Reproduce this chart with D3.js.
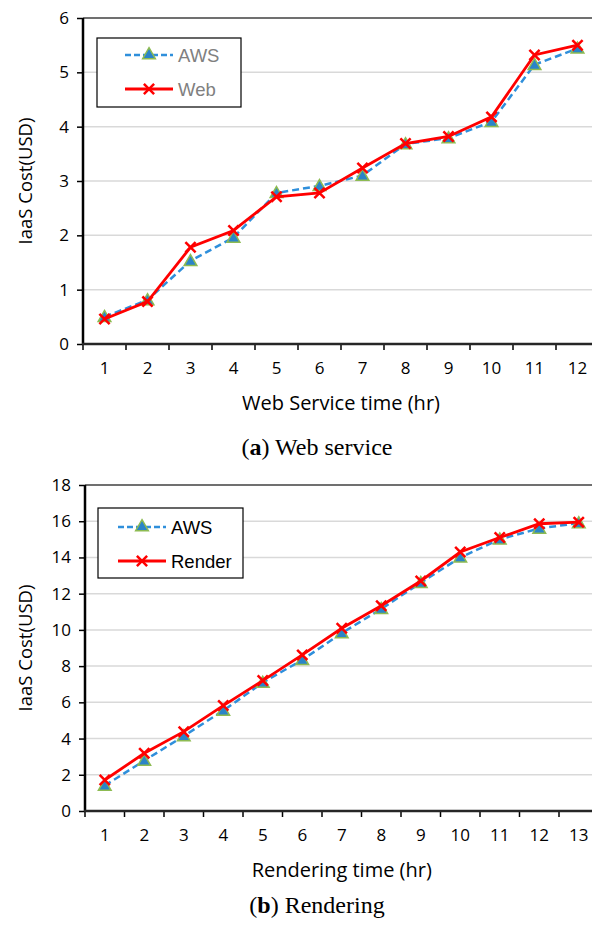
<!DOCTYPE html>
<html>
<head>
<meta charset="utf-8">
<script src="https://cdn.jsdelivr.net/npm/d3@7"></script>
<style>
  html, body { margin: 0; padding: 0; background: #fff; }
  svg { display: block; }
</style>
</head>
<body>
<svg id="chart" width="592" height="928"></svg>
<script>
// Panel (a): web service cost
const webHours = [1, 2, 3, 4, 5, 6, 7, 8, 9, 10, 11, 12];
const webAws = [0.50, 0.81, 1.53, 1.96, 2.78, 2.91, 3.10, 3.68, 3.79, 4.09, 5.14, 5.44];
const webOwn = [0.46, 0.78, 1.78, 2.09, 2.71, 2.78, 3.24, 3.69, 3.82, 4.18, 5.32, 5.50];
const webTicks = [0, 1, 2, 3, 4, 5, 6];

// Panel (b): rendering cost
const renderHours = [1, 2, 3, 4, 5, 6, 7, 8, 9, 10, 11, 12, 13];
const renderAws = [1.40, 2.78, 4.14, 5.54, 7.09, 8.34, 9.82, 11.16, 12.60, 14.00, 15.00, 15.60, 15.90];
const renderOwn = [1.71, 3.19, 4.38, 5.82, 7.20, 8.62, 10.09, 11.33, 12.70, 14.30, 15.10, 15.86, 15.95];
const renderTicks = [0, 2, 4, 6, 8, 10, 12, 14, 16, 18];

const svg = d3.select("#chart");

const tickFont = "'Open Sans', 'Noto Sans', sans-serif";
const legendFont = "'Liberation Sans', Arial, sans-serif";
const captionFont = "'Liberation Serif', 'DejaVu Serif', serif";

const AWS_LINE = "#2f8fdb";
const AWS_FILL = "#2b84c8";
const AWS_EDGE = "#8dbb52";
const OWN_LINE = "#ff0000";

function panel(cfg) {
  const { left, right, top, bottom, cats, aws, own, yMax, yTicks, xTitle, xTitleY,
          ownName, legendBox, legendTextColor, captionLabel, captionRest, captionY } = cfg;

  const g = svg.append("g");

  const x = d3.scaleBand().domain(cats).range([left, right]).paddingInner(0).paddingOuter(0);
  const y = d3.scaleLinear().domain([0, yMax]).range([bottom, top]);

  // horizontal gridlines
  g.append("g").selectAll("line")
    .data(yTicks.filter(t => t > 0 && t < yMax))
    .join("line")
    .attr("x1", left).attr("x2", right)
    .attr("y1", d => y(d)).attr("y2", d => y(d))
    .attr("stroke", "#d9d9d9").attr("stroke-width", 1.5);

  // top border
  g.append("line")
    .attr("x1", left).attr("x2", right)
    .attr("y1", top).attr("y2", top)
    .attr("stroke", "#404040").attr("stroke-width", 1.5);

  // y axis
  const yAxis = d3.axisLeft(y).tickValues(yTicks).tickSize(6).tickPadding(8).tickFormat(d3.format("d"));
  const ya = g.append("g").attr("transform", `translate(${left},0)`).call(yAxis);
  ya.select(".domain").remove();
  ya.selectAll(".tick line").attr("stroke", "#000").attr("stroke-width", 1.5);
  ya.selectAll(".tick text").attr("font-family", tickFont).attr("font-size", 17).attr("fill", "#000");
  g.append("line")
    .attr("x1", left).attr("x2", left).attr("y1", top).attr("y2", bottom + 1)
    .attr("stroke", "#000").attr("stroke-width", 2.5);

  // x axis: ticks on the category boundaries, labels at band centres
  const xa = g.append("g").attr("transform", `translate(0,${bottom})`);
  const bounds = cats.map(c => x(c)).concat([x(cats[cats.length - 1]) + x.bandwidth()]);
  xa.selectAll("line.tk").data(bounds).join("line").attr("class", "tk")
    .attr("x1", d => d).attr("x2", d => d).attr("y1", 0).attr("y2", 6)
    .attr("stroke", "#000").attr("stroke-width", 1.5);
  xa.selectAll("text").data(cats).join("text")
    .attr("x", d => x(d) + x.bandwidth() / 2).attr("y", 30)
    .attr("text-anchor", "middle")
    .attr("font-family", tickFont).attr("font-size", 17).attr("fill", "#000")
    .text(d => d);
  g.append("line")
    .attr("x1", left - 1).attr("x2", right).attr("y1", bottom).attr("y2", bottom)
    .attr("stroke", "#262626").attr("stroke-width", 2.5);

  // axis titles
  g.append("text")
    .attr("transform", `translate(24,${(top + bottom) / 2}) rotate(-90)`)
    .attr("text-anchor", "middle").attr("dominant-baseline", "central")
    .attr("font-family", tickFont).attr("font-size", 18.5).attr("fill", "#000")
    .text("IaaS Cost(USD)");
  g.append("text")
    .attr("x", (left + right) / 2).attr("y", xTitleY)
    .attr("text-anchor", "middle")
    .attr("font-family", tickFont).attr("font-size", 20).attr("fill", "#000")
    .text(xTitle);

  const cx = c => x(c) + x.bandwidth() / 2;

  // series lines
  const line = d3.line().x(d => cx(d.c)).y(d => y(d.v));
  const awsPts = cats.map((c, i) => ({ c, v: aws[i] }));
  const ownPts = cats.map((c, i) => ({ c, v: own[i] }));

  g.append("path").datum(awsPts).attr("d", line)
    .attr("fill", "none").attr("stroke", AWS_LINE).attr("stroke-width", 2.5)
    .attr("stroke-dasharray", "7,4");

  const tri = d3.symbol().type(d3.symbolTriangle).size(70);
  g.append("g").selectAll("path").data(awsPts).join("path")
    .attr("d", tri)
    .attr("transform", d => `translate(${cx(d.c)},${y(d.v) + 1})`)
    .attr("fill", AWS_FILL).attr("stroke", AWS_EDGE).attr("stroke-width", 1.5);

  g.append("path").datum(ownPts).attr("d", line)
    .attr("fill", "none").attr("stroke", OWN_LINE).attr("stroke-width", 2.8);

  const cross = d3.symbol().type(d3.symbolX).size(70);
  g.append("g").selectAll("path").data(ownPts).join("path")
    .attr("d", cross)
    .attr("transform", d => `translate(${cx(d.c)},${y(d.v)})`)
    .attr("fill", "none").attr("stroke", OWN_LINE).attr("stroke-width", 2.5);

  // legend
  const lg = g.append("g");
  lg.append("rect")
    .attr("x", legendBox.x).attr("y", legendBox.y)
    .attr("width", legendBox.w).attr("height", legendBox.h)
    .attr("fill", "#fff").attr("stroke", "#000").attr("stroke-width", 1.2);
  const rows = [
    { name: "AWS", kind: "aws", yy: legendBox.row1 },
    { name: ownName, kind: "own", yy: legendBox.row2 }
  ];
  rows.forEach(r => {
    const x0 = legendBox.lx0, x1 = legendBox.lx1, xm = (x0 + x1) / 2;
    if (r.kind === "aws") {
      lg.append("line").attr("x1", x0).attr("x2", x1).attr("y1", r.yy).attr("y2", r.yy)
        .attr("stroke", AWS_LINE).attr("stroke-width", 2.5).attr("stroke-dasharray", "6,3");
      lg.append("path").attr("d", tri).attr("transform", `translate(${xm},${r.yy})`)
        .attr("fill", AWS_FILL).attr("stroke", AWS_EDGE).attr("stroke-width", 1.5);
    } else {
      lg.append("line").attr("x1", x0).attr("x2", x1).attr("y1", r.yy).attr("y2", r.yy)
        .attr("stroke", OWN_LINE).attr("stroke-width", 2.8);
      lg.append("path").attr("d", cross).attr("transform", `translate(${xm},${r.yy})`)
        .attr("fill", "none").attr("stroke", OWN_LINE).attr("stroke-width", 2.5);
    }
    lg.append("text").attr("x", legendBox.tx).attr("y", r.yy)
      .attr("dominant-baseline", "central")
      .attr("font-family", legendFont).attr("font-size", 18.5).attr("fill", legendTextColor)
      .text(r.name);
  });

  // caption
  const cap = g.append("text")
    .attr("x", 317).attr("y", captionY)
    .attr("text-anchor", "middle")
    .attr("font-family", captionFont).attr("font-size", 24).attr("fill", "#000");
  cap.append("tspan").text("(");
  cap.append("tspan").attr("font-weight", "bold").text(captionLabel);
  cap.append("tspan").text(") " + captionRest);
}

panel({
  left: 83, right: 599, top: 18, bottom: 344,
  cats: webHours, aws: webAws, own: webOwn, yMax: 6, yTicks: webTicks,
  xTitle: "Web Service time (hr)", xTitleY: 410,
  ownName: "Web", legendTextColor: "#808080",
  legendBox: { x: 97, y: 38, w: 144, h: 69, row1: 55, row2: 89, lx0: 125, lx1: 173, tx: 178 },
  captionLabel: "a", captionRest: "Web service", captionY: 455
});

panel({
  left: 85, right: 598.5, top: 485, bottom: 811,
  cats: renderHours, aws: renderAws, own: renderOwn, yMax: 18, yTicks: renderTicks,
  xTitle: "Rendering time (hr)", xTitleY: 877,
  ownName: "Render", legendTextColor: "#000",
  legendBox: { x: 98, y: 508, w: 145, h: 70, row1: 527, row2: 561, lx0: 118, lx1: 166, tx: 171 },
  captionLabel: "b", captionRest: "Rendering", captionY: 913
});
</script>
</body>
</html>
